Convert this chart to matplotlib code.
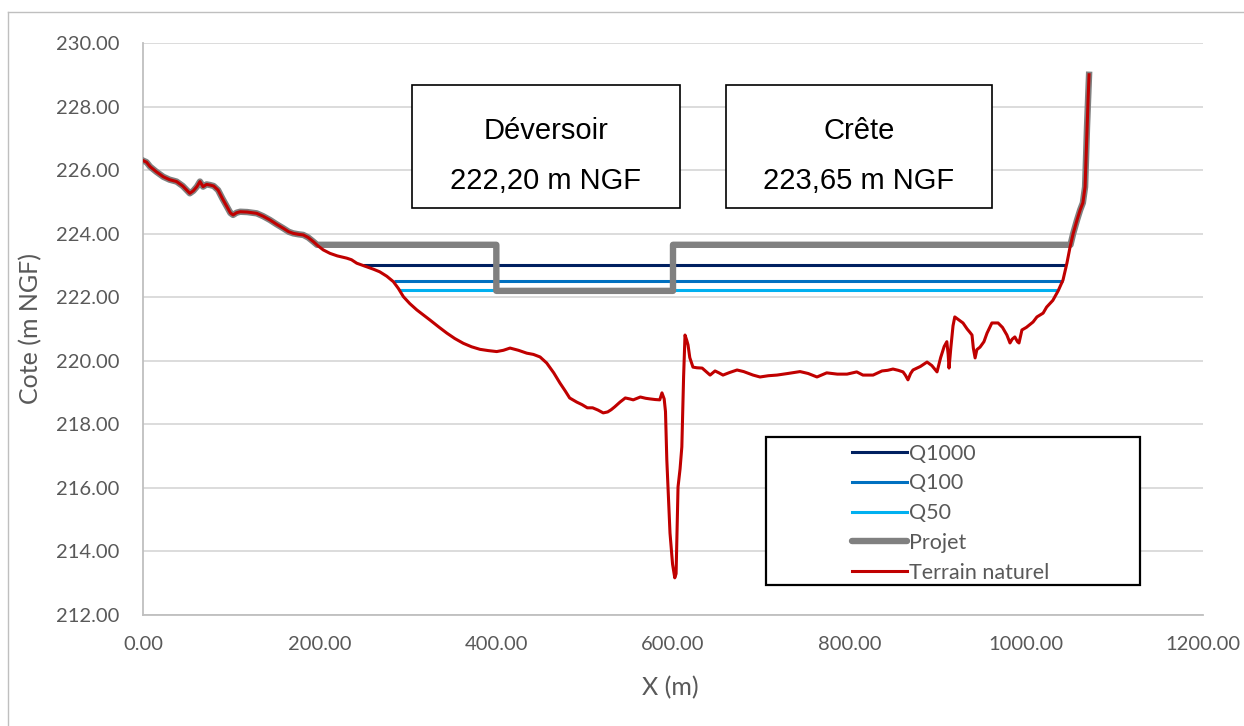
import matplotlib.pyplot as plt
from matplotlib.patches import Rectangle
from matplotlib.lines import Line2D

# Profil en travers : abscisse (m) et cote du terrain naturel (m NGF)
terrain_x = [0, 4, 8, 15, 23, 30, 38, 45, 53, 57, 61, 64.5, 68, 72, 76, 80, 85, 90, 95, 99,
             102, 106, 110, 118, 128.7, 136, 143.8, 151, 158.8, 165, 170, 176, 181.5, 187, 192.8,
             198, 204, 211.7, 220, 230.6, 236, 242, 248, 253, 261, 268, 276, 283.4, 289, 294.7,
             302, 310, 318, 325, 335, 344, 353, 362.6, 372, 381.5, 391, 400.4, 408, 415.5, 425,
             434.4, 442, 449.5, 457, 465, 472, 478, 483, 491, 497, 503, 509, 515, 521, 526, 530,
             534, 540, 546, 551, 555, 563, 569, 574, 580, 585, 587.5, 590, 591.5, 593, 596.6,
             599.5, 602, 603.5, 605.7, 608, 610, 612, 613.6, 615.5, 617, 619, 622.6, 627, 633,
             638, 642, 647.6, 652, 656.6, 664, 672.5, 680, 690.6, 698.5, 708, 717.7, 730, 743.8,
             753, 763, 774, 786, 797, 803, 808, 815, 826.5, 836.6, 843, 849, 855, 860.4, 863,
             866, 869, 871.7, 880, 887.6, 893, 898.9, 903, 907, 910, 911.5, 912.5, 914.5, 917,
             919, 923, 928.3, 933, 936, 938.5, 940, 942, 944, 947.6, 952, 955.5, 961, 968, 973,
             978, 981.5, 984, 987, 990, 991.7, 995, 1000, 1007.6, 1012, 1019, 1023, 1030, 1036,
             1041.5, 1046, 1049.5, 1053, 1057.4, 1061, 1064, 1066.5, 1067.5, 1068.7, 1070, 1071]
terrain_y = [226.30, 226.25, 226.11, 225.95, 225.79, 225.70, 225.64, 225.50, 225.27, 225.35,
             225.48, 225.64, 225.48, 225.55, 225.53, 225.50, 225.37, 225.10, 224.85, 224.65,
             224.59, 224.66, 224.69, 224.68, 224.64, 224.55, 224.43, 224.30, 224.17, 224.06,
             224.01, 223.98, 223.96, 223.88, 223.75, 223.62, 223.49, 223.38, 223.30, 223.23,
             223.18, 223.07, 223.01, 222.96, 222.88, 222.80, 222.66, 222.49, 222.28, 222.02,
             221.80, 221.60, 221.43, 221.28, 221.06, 220.87, 220.70, 220.55, 220.44, 220.36,
             220.32, 220.29, 220.33, 220.40, 220.33, 220.24, 220.20, 220.12, 219.93, 219.62,
             219.30, 219.05, 218.83, 218.70, 218.62, 218.52, 218.52, 218.45, 218.36, 218.39,
             218.46, 218.55, 218.70, 218.83, 218.80, 218.77, 218.86, 218.82, 218.80, 218.78,
             218.77, 218.99, 218.80, 218.40, 216.88, 214.58, 213.60, 213.17, 213.30, 216.03,
             216.60, 217.29, 219.50, 220.81, 220.65, 220.50, 220.10, 219.80, 219.78, 219.77,
             219.65, 219.55, 219.68, 219.62, 219.55, 219.63, 219.71, 219.66, 219.55, 219.49,
             219.53, 219.55, 219.60, 219.66, 219.60, 219.49, 219.62, 219.58, 219.58, 219.62,
             219.65, 219.55, 219.55, 219.68, 219.70, 219.74, 219.70, 219.65, 219.55, 219.40,
             219.60, 219.71, 219.82, 219.96, 219.85, 219.65, 220.10, 220.45, 220.60, 220.20,
             219.77, 220.40, 221.10, 221.38, 221.30, 221.19, 221.00, 220.90, 220.81, 220.40,
             220.09, 220.35, 220.43, 220.60, 220.87, 221.19, 221.19, 221.05, 220.81, 220.56,
             220.68, 220.75, 220.60, 220.56, 220.97, 221.05, 221.22, 221.38, 221.50, 221.69,
             221.90, 222.20, 222.54, 223.08, 223.58, 224.00, 224.43, 224.75, 224.97, 225.47,
             226.30, 227.36, 228.30, 229.00]

# Ouvrage projeté : crête et déversoir
crete = 223.65
deversoir = 222.20
crete_debut, crete_fin = 197, 1050
deversoir_debut, deversoir_fin = 400, 600

# Niveaux d'eau (cote, début, fin)
crues = ['Q1000', 'Q100', 'Q50']
crues_cote = [223.00, 222.50, 222.22]
crues_debut = [249, 284, 290]
crues_fin = [1045, 1041, 1036]
crues_couleur = ['#002060', '#0070C0', '#00B0F0']

# profil du projet : terrain aux extrémités + crête avec déversoir
projet_x = [x for x in terrain_x if x < crete_debut]
projet_y = [y for x, y in zip(terrain_x, terrain_y) if x < crete_debut]
projet_x += [crete_debut, deversoir_debut, deversoir_debut, deversoir_fin, deversoir_fin, crete_fin]
projet_y += [crete, crete, deversoir, deversoir, crete, crete]
projet_x += [x for x in terrain_x if x > crete_fin]
projet_y += [y for x, y in zip(terrain_x, terrain_y) if x > crete_fin]

W, H = 1244, 726
fig = plt.figure(figsize=(W / 100, H / 100), dpi=100)
ax = fig.add_axes([143 / W, 1 - 615 / H, 1060 / W, 572 / H])

for nom, cote, x0, x1, c in zip(crues, crues_cote, crues_debut, crues_fin, crues_couleur):
    ax.plot([x0, x1], [cote, cote], color=c, lw=2.2, solid_capstyle='butt', zorder=3)
ax.plot(projet_x, projet_y, color='#808080', lw=4.6, solid_joinstyle='round', zorder=4)
ax.plot(terrain_x, terrain_y, color='#C00000', lw=2.2, zorder=5)

ax.set_xlim(0, 1200)
ax.set_ylim(212, 230)
ax.set_xticks(range(0, 1201, 200))
ax.set_yticks(range(212, 231, 2))
ax.xaxis.set_major_formatter(lambda v, p: f'{v:.2f}')
ax.yaxis.set_major_formatter(lambda v, p: f'{v:.2f}')
ax.grid(axis='y', color='#d9d9d9', lw=1.3)
ax.set_axisbelow(True)
for s in ['top', 'right']:
    ax.spines[s].set_visible(False)
for s in ['left', 'bottom']:
    ax.spines[s].set_color('#bfbfbf')
    ax.spines[s].set_linewidth(1.3)
ax.tick_params(length=0, labelsize=14.5, labelcolor='#595959')
ax.tick_params(axis='x', pad=15)
ax.tick_params(axis='y', pad=17)
for lab in ax.get_xticklabels() + ax.get_yticklabels():
    lab.set_family('Lato')

fig.text(31 / W, 1 - 328 / H, 'Cote (m NGF)', rotation=90, ha='center', va='center',
         fontsize=18, color='#595959', family='Lato')
fig.text(670 / W, 1 - 688 / H, 'X (m)', ha='center', va='center',
         fontsize=18, color='#595959', family='Lato')

# cadres d'annotation
for x0, x1, l1, l2 in [(412, 680, 'Déversoir', f'{deversoir:.2f} m NGF'.replace('.', ',')),
                       (726, 992, 'Crête', f'{crete:.2f} m NGF'.replace('.', ','))]:
    fig.add_artist(Rectangle((x0 / W, 1 - 208 / H), (x1 - x0) / W, 123 / H,
                             transform=fig.transFigure, fill=True, facecolor='white',
                             edgecolor='black', lw=1.2, zorder=6))
    xc = (x0 + x1) / 2 / W
    fig.text(xc, 1 - 131 / H, l1, ha='center', va='center', fontsize=21,
             family='Liberation Sans', zorder=7)
    fig.text(xc, 1 - 181 / H, l2, ha='center', va='center', fontsize=21,
             family='Liberation Sans', zorder=7)

# légende
fig.add_artist(Rectangle((766 / W, 1 - 585 / H), 374 / W, 148 / H, transform=fig.transFigure,
                         facecolor='white', edgecolor='black', lw=1.6, zorder=6))
handles = [Line2D([], [], color=c, lw=2.2) for c in crues_couleur]
handles.append(Line2D([], [], color='#808080', lw=4.6, solid_capstyle='round'))
handles.append(Line2D([], [], color='#C00000', lw=2.2))
leg = fig.legend(handles, crues + ['Projet', 'Terrain naturel'], loc='upper left',
                 bbox_to_anchor=(841 / W, 1 - 433 / H), frameon=False, handlelength=2.55,
                 handletextpad=0.12, labelspacing=0.45, borderpad=0,
                 prop={'family': 'Lato', 'size': 15.5})
leg.set_zorder(7)
for t in leg.get_texts():
    t.set_color('#595959')

# bordure de la zone graphique
fig.add_artist(Line2D([8 / W, 8 / W], [0, 1 - 12 / H], transform=fig.transFigure,
                      color='#bfbfbf', lw=1))
fig.add_artist(Line2D([8 / W, 1], [1 - 12 / H, 1 - 12 / H], transform=fig.transFigure,
                      color='#bfbfbf', lw=1))

fig.savefig('out.png', dpi=100)
